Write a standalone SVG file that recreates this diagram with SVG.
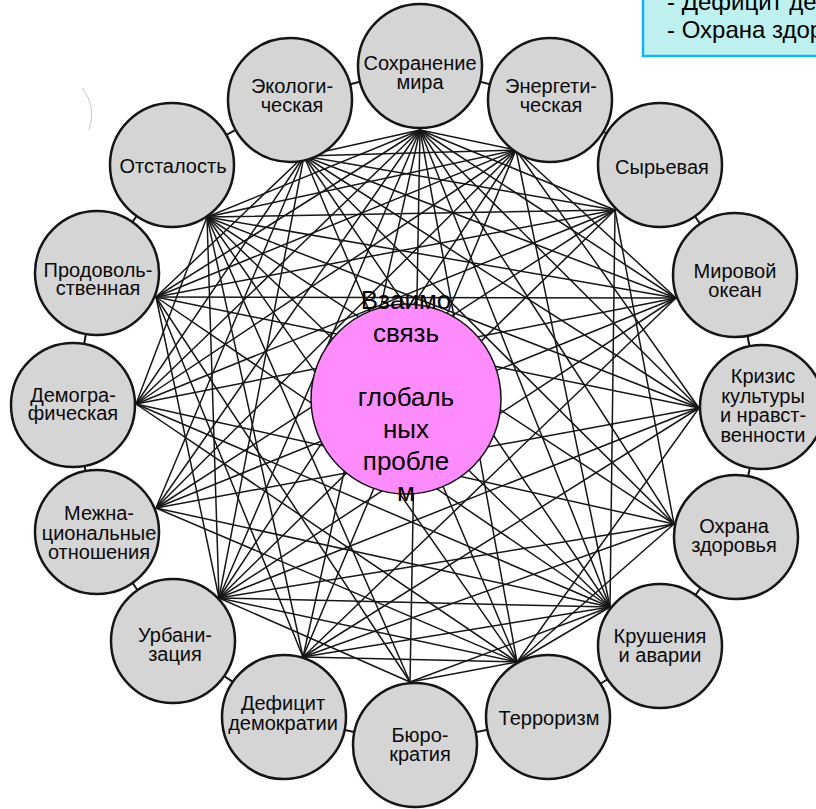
<svg xmlns="http://www.w3.org/2000/svg" width="816" height="809" viewBox="0 0 816 809">
<style>
.bg{fill:#ffffff}
.ln{stroke:#161616;stroke-width:1.5;fill:none;stroke-linecap:round}
.tk{stroke:#161616;stroke-width:2;fill:none}
.nd{fill:#d5d5d5;stroke:#151515;stroke-width:2.5}
.lb{font-family:"Liberation Sans",Arial,sans-serif;font-size:20px;fill:#0a0a0a;text-anchor:middle}
.ctr{fill:#ff8cff;stroke:#111;stroke-width:1.5}
.ct{font-family:"Liberation Sans",Arial,sans-serif;font-size:26px;fill:#000;text-anchor:middle}
.bx{fill:#bdf0ee;stroke:#10b8f0;stroke-width:2.5}
.bt{font-family:"Liberation Sans",Arial,sans-serif;font-size:24px;fill:#000}
</style>
<rect class="bg" x="0" y="0" width="816" height="809"/>
<path d="M82,88 Q97,106 89,130" stroke="#c8c8c8" stroke-width="1" fill="none"/>
<g id="box">
<rect class="bx" x="643" y="-10" width="190" height="66"/>
<text class="bt" x="667" y="10">- Дефицит демократии</text>
<text class="bt" x="667" y="38">- Охрана здоровья</text>
</g>
<g id="connectors">
<line class="tk" x1="420" y1="66" x2="550" y2="100"/>
<line class="tk" x1="550" y1="100" x2="660" y2="165"/>
<line class="tk" x1="660" y1="165" x2="735" y2="275"/>
<line class="tk" x1="735" y1="275" x2="762" y2="407"/>
<line class="tk" x1="762" y1="407" x2="736" y2="537"/>
<line class="tk" x1="736" y1="537" x2="660" y2="646"/>
<line class="tk" x1="660" y1="646" x2="548" y2="717"/>
<line class="tk" x1="548" y1="717" x2="415" y2="745"/>
<line class="tk" x1="415" y1="745" x2="284" y2="717"/>
<line class="tk" x1="284" y1="717" x2="173" y2="641"/>
<line class="tk" x1="173" y1="641" x2="97" y2="532"/>
<line class="tk" x1="97" y1="532" x2="73" y2="405"/>
<line class="tk" x1="73" y1="405" x2="97" y2="273"/>
<line class="tk" x1="97" y1="273" x2="172" y2="165"/>
<line class="tk" x1="172" y1="165" x2="290" y2="100"/>
<line class="tk" x1="290" y1="100" x2="420" y2="66"/>
<line class="ln" x1="420" y1="130" x2="304" y2="156"/>
<line class="ln" x1="420" y1="130" x2="516" y2="150"/>
<line class="ln" x1="420" y1="130" x2="207" y2="217"/>
<line class="ln" x1="420" y1="130" x2="156" y2="297"/>
<line class="ln" x1="420" y1="130" x2="136" y2="404"/>
<line class="ln" x1="420" y1="130" x2="156" y2="508"/>
<line class="ln" x1="420" y1="130" x2="219" y2="598"/>
<line class="ln" x1="420" y1="130" x2="303" y2="657"/>
<line class="ln" x1="420" y1="130" x2="410" y2="682"/>
<line class="ln" x1="420" y1="130" x2="517" y2="662"/>
<line class="ln" x1="420" y1="130" x2="610" y2="607"/>
<line class="ln" x1="420" y1="130" x2="674" y2="524"/>
<line class="ln" x1="420" y1="130" x2="699" y2="408"/>
<line class="ln" x1="420" y1="130" x2="676" y2="298"/>
<line class="ln" x1="420" y1="130" x2="615" y2="210"/>
<line class="ln" x1="304" y1="156" x2="516" y2="150"/>
<line class="ln" x1="304" y1="156" x2="615" y2="210"/>
<line class="ln" x1="304" y1="156" x2="676" y2="298"/>
<line class="ln" x1="304" y1="156" x2="699" y2="408"/>
<line class="ln" x1="304" y1="156" x2="674" y2="524"/>
<line class="ln" x1="304" y1="156" x2="610" y2="607"/>
<line class="ln" x1="304" y1="156" x2="517" y2="662"/>
<line class="ln" x1="304" y1="156" x2="156" y2="297"/>
<line class="ln" x1="304" y1="156" x2="136" y2="404"/>
<line class="ln" x1="304" y1="156" x2="156" y2="508"/>
<line class="ln" x1="304" y1="156" x2="219" y2="598"/>
<line class="ln" x1="516" y1="150" x2="207" y2="217"/>
<line class="ln" x1="516" y1="150" x2="156" y2="297"/>
<line class="ln" x1="516" y1="150" x2="136" y2="404"/>
<line class="ln" x1="516" y1="150" x2="156" y2="508"/>
<line class="ln" x1="516" y1="150" x2="219" y2="598"/>
<line class="ln" x1="516" y1="150" x2="303" y2="657"/>
<line class="ln" x1="516" y1="150" x2="610" y2="607"/>
<line class="ln" x1="516" y1="150" x2="699" y2="408"/>
<line class="ln" x1="516" y1="150" x2="676" y2="298"/>
<line class="ln" x1="207" y1="217" x2="615" y2="210"/>
<line class="ln" x1="207" y1="217" x2="676" y2="298"/>
<line class="ln" x1="207" y1="217" x2="699" y2="408"/>
<line class="ln" x1="207" y1="217" x2="674" y2="524"/>
<line class="ln" x1="207" y1="217" x2="610" y2="607"/>
<line class="ln" x1="207" y1="217" x2="517" y2="662"/>
<line class="ln" x1="207" y1="217" x2="410" y2="682"/>
<line class="ln" x1="207" y1="217" x2="303" y2="657"/>
<line class="ln" x1="207" y1="217" x2="219" y2="598"/>
<line class="ln" x1="207" y1="217" x2="136" y2="404"/>
<line class="ln" x1="615" y1="210" x2="156" y2="297"/>
<line class="ln" x1="615" y1="210" x2="136" y2="404"/>
<line class="ln" x1="615" y1="210" x2="156" y2="508"/>
<line class="ln" x1="615" y1="210" x2="219" y2="598"/>
<line class="ln" x1="615" y1="210" x2="610" y2="607"/>
<line class="ln" x1="615" y1="210" x2="674" y2="524"/>
<line class="ln" x1="156" y1="297" x2="676" y2="298"/>
<line class="ln" x1="156" y1="297" x2="699" y2="408"/>
<line class="ln" x1="156" y1="297" x2="219" y2="598"/>
<line class="ln" x1="156" y1="297" x2="303" y2="657"/>
<line class="ln" x1="156" y1="297" x2="410" y2="682"/>
<line class="ln" x1="156" y1="297" x2="610" y2="607"/>
<line class="ln" x1="676" y1="298" x2="136" y2="404"/>
<line class="ln" x1="676" y1="298" x2="156" y2="508"/>
<line class="ln" x1="676" y1="298" x2="219" y2="598"/>
<line class="ln" x1="676" y1="298" x2="303" y2="657"/>
<line class="ln" x1="136" y1="404" x2="674" y2="524"/>
<line class="ln" x1="136" y1="404" x2="610" y2="607"/>
<line class="ln" x1="136" y1="404" x2="517" y2="662"/>
<line class="ln" x1="699" y1="408" x2="156" y2="508"/>
<line class="ln" x1="699" y1="408" x2="219" y2="598"/>
<line class="ln" x1="699" y1="408" x2="303" y2="657"/>
<line class="ln" x1="699" y1="408" x2="517" y2="662"/>
<line class="ln" x1="156" y1="508" x2="610" y2="607"/>
<line class="ln" x1="156" y1="508" x2="517" y2="662"/>
<line class="ln" x1="674" y1="524" x2="219" y2="598"/>
<line class="ln" x1="674" y1="524" x2="303" y2="657"/>
<line class="ln" x1="674" y1="524" x2="517" y2="662"/>
<line class="ln" x1="219" y1="598" x2="610" y2="607"/>
<line class="ln" x1="219" y1="598" x2="517" y2="662"/>
<line class="ln" x1="219" y1="598" x2="410" y2="682"/>
<line class="ln" x1="610" y1="607" x2="303" y2="657"/>
<line class="ln" x1="610" y1="607" x2="410" y2="682"/>
<line class="ln" x1="610" y1="607" x2="517" y2="662"/>
<line class="ln" x1="303" y1="657" x2="517" y2="662"/>
<line class="ln" x1="517" y1="662" x2="410" y2="682"/>
</g>
<g id="node-sohranenie"><circle class="nd" cx="420" cy="66" r="62"/><text class="lb" x="420" y="70">Сохранение</text><text class="lb" x="420" y="89">мира</text></g>
<g id="node-energeticheskaya"><circle class="nd" cx="550" cy="100" r="62"/><text class="lb" x="551" y="93">Энергети-</text><text class="lb" x="551" y="112">ческая</text></g>
<g id="node-syrevaya"><circle class="nd" cx="660" cy="165" r="62"/><text class="lb" x="662" y="174">Сырьевая</text></g>
<g id="node-mirovoy-okean"><circle class="nd" cx="735" cy="275" r="62"/><text class="lb" x="735" y="278">Мировой</text><text class="lb" x="735" y="297">океан</text></g>
<g id="node-krizis"><circle class="nd" cx="762" cy="407" r="62"/><text class="lb" x="763" y="383">Кризис</text><text class="lb" x="763" y="403">культуры</text><text class="lb" x="763" y="422">и нравст-</text><text class="lb" x="763" y="442">венности</text></g>
<g id="node-ohrana"><circle class="nd" cx="736" cy="537" r="62"/><text class="lb" x="734" y="533">Охрана</text><text class="lb" x="734" y="552">здоровья</text></g>
<g id="node-krusheniya"><circle class="nd" cx="660" cy="646" r="62"/><text class="lb" x="660" y="643">Крушения</text><text class="lb" x="660" y="662">и аварии</text></g>
<g id="node-terrorizm"><circle class="nd" cx="548" cy="717" r="62"/><text class="lb" x="549" y="725">Терроризм</text></g>
<g id="node-byurokratiya"><circle class="nd" cx="415" cy="745" r="62"/><text class="lb" x="420" y="742">Бюро-</text><text class="lb" x="420" y="761">кратия</text></g>
<g id="node-deficit"><circle class="nd" cx="284" cy="717" r="62"/><text class="lb" x="283" y="710">Дефицит</text><text class="lb" x="283" y="730">демократии</text></g>
<g id="node-urbanizaciya"><circle class="nd" cx="173" cy="641" r="62"/><text class="lb" x="175" y="642">Урбани-</text><text class="lb" x="175" y="661">зация</text></g>
<g id="node-mezhnac"><circle class="nd" cx="97" cy="532" r="62"/><text class="lb" x="99" y="520">Межна-</text><text class="lb" x="99" y="540">циональные</text><text class="lb" x="99" y="559">отношения</text></g>
<g id="node-demograf"><circle class="nd" cx="73" cy="405" r="62"/><text class="lb" x="73" y="402">Демогра-</text><text class="lb" x="73" y="420">фическая</text></g>
<g id="node-prodovol"><circle class="nd" cx="97" cy="273" r="62"/><text class="lb" x="98" y="277">Продоволь-</text><text class="lb" x="98" y="295">ственная</text></g>
<g id="node-otstalost"><circle class="nd" cx="172" cy="165" r="62"/><text class="lb" x="173" y="173">Отсталость</text></g>
<g id="node-ekolog"><circle class="nd" cx="290" cy="100" r="62"/><text class="lb" x="292" y="93">Экологи-</text><text class="lb" x="292" y="112">ческая</text></g>
<g id="node-center"><circle class="ctr" cx="406" cy="399" r="95"/>
<text class="ct" x="406" y="309">Взаимо</text>
<text class="ct" x="406" y="342">связь</text>
<text class="ct" x="406" y="406">глобаль</text>
<text class="ct" x="406" y="438">ных</text>
<text class="ct" x="406" y="470">пробле</text>
<text class="ct" x="406" y="501">м</text>
</g>
</svg>
